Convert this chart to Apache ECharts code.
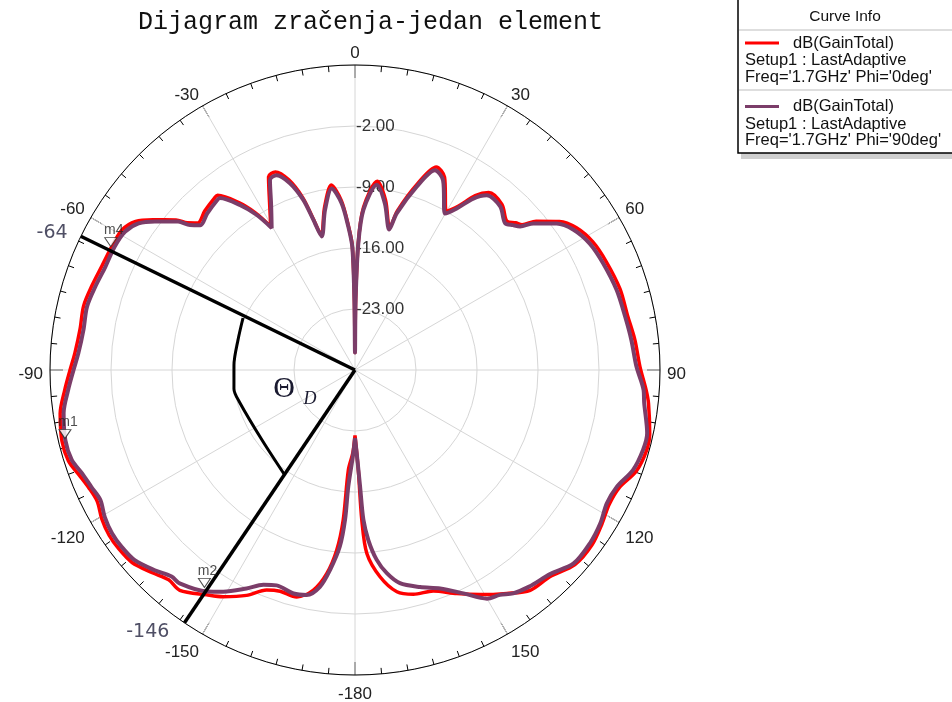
<!DOCTYPE html>
<html><head><meta charset="utf-8">
<script src="https://cdn.jsdelivr.net/npm/echarts@6/dist/echarts.min.js"></script>
<style>html,body{margin:0;padding:0;background:#fff}#c{width:952px;height:702px}</style>
</head><body><div id="c"></div><script>
const titleText = 'Dijagram zračenja-jedan element';
const angleLabels = [0, 30, 60, 90, 120, 150, -180, -150, -120, -90, -60, -30];
const radialTicks = [-30, -23, -16, -9, -2, 5];

// Phi = 0deg (red)
const thetaPhi0 = [-180, -178.5, -176.2, -175.5, -174.2, -172.1, -169.3, -165.6, -161.3, -158.1,
 -154.3, -149.8, -146.6, -141.5, -138.4, -135, -130.8, -127.1, -123.9, -120.4,
 -117.0, -113.9, -110.7, -107.6, -103.6, -98.4, -94.0, -90, -86.5, -81.6,
 -76.7, -72.2, -67.6, -62.8, -59.0, -55.9, -53.4, -50.0, -48.7, -46.9,
 -43.4, -39.1, -38.2, -34.9, -32.4, -30.4, -27.0, -24.1, -21.9, -19.2,
 -16.9, -15.5, -14.0, -10.6, -7.3, -4.6, -2.7, -1.25, -0.5, 0,
 0.5, 1.5, 3.0, 6.7, 10.2, 13.7, 14.9, 18.6, 21.8, 24.9,
 29.9, 32.2, 34.6, 37.0, 41.6, 45.6, 47.5, 49.0, 50.6, 54.0,
 57.3, 61.7, 66.7, 73.0, 78.8, 83.8, 89.3, 94.0, 96.5, 102.2,
 105.5, 109.8, 114.0, 117.9, 122.0, 126.4, 131.5, 136.7, 141.5, 145.8,
 150.9, 155.5, 160.5, 165.4, 169.3, 173.1, 176.3, 177.4, 178.1, 180];
const gainPhi0 = [-22.5, -20.5, -18.5, -12.7, -9.2, -6.4, -4.3, -3.1, -3.2, -2.8,
 -1.3, 0.1, 0.9, 2.3, 2.2, 2.9, 3.8, 4.0, 4.0, 3.7,
 3.2, 3.4, 3.9, 4.5, 4.6, 4.2, 3.4, 2.7, 2.2, 1.9,
 2.0, 1.7, 1.4, 1.3, 1.2, 0.4, -1.1, -3.2, -4.4, -5.3,
 -4.9, -4.5, -4.5, -6.5, -8.6, -10.9, -8.4, -5.7, -5.5, -6.9,
 -9.3, -11.9, -14.0, -11.0, -8.6, -10.5, -13.3, -15.7, -22, -28,
 -22, -15.3, -11.3, -8.2, -10.2, -13.2, -11.1, -7.4, -4.9, -5.6,
 -9.0, -7.8, -5.7, -4.5, -4.6, -5.6, -5.0, -4.6, -3.1, -1.0,
 0.2, 1.0, 1.4, 1.8, 1.9, 2.3, 2.7, 3.5, 3.9, 4.6,
 4.7, 4.3, 3.2, 3.0, 3.4, 3.8, 3.7, 2.6, 2.3, 1.0,
 -0.5, -1.8, -3.1, -3.4, -4.1, -6.1, -8.9, -12.8, -18.5, -22.5];

// Phi = 90deg (purple)
const thetaPhi90 = [-180, -178.8, -176.7, -176.2, -175.1, -172.9, -170.8, -167.9, -164.6, -160.0,
 -156.9, -153.6, -149.3, -146.2, -140.6, -138.4, -135, -130.8, -127.1, -123.9,
 -120.4, -117.0, -113.9, -110.7, -107.6, -103.6, -98.4, -94.0, -90, -86.5,
 -81.6, -76.7, -72.2, -67.6, -62.8, -59.0, -55.9, -53.4, -50.0, -48.7,
 -46.9, -43.4, -39.1, -38.2, -34.9, -32.4, -30.4, -27.0, -24.1, -21.9,
 -19.2, -16.9, -15.5, -14.0, -10.6, -7.3, -4.6, -2.7, -1.25, -0.5,
 0, 0.5, 1.5, 3.0, 6.7, 10.2, 13.7, 14.9, 18.6, 21.8,
 24.9, 29.9, 32.2, 34.6, 37.0, 41.6, 45.6, 47.5, 49.0, 50.6,
 54.0, 57.3, 61.7, 66.7, 73.0, 78.8, 83.8, 89.3, 94.0, 96.5,
 102.2, 105.5, 109.8, 114.0, 117.9, 122.0, 126.4, 131.5, 136.3, 141.2,
 144.7, 147.2, 150.0, 154.1, 158.7, 163.3, 168.1, 171.1, 173.5, 175.5,
 176.8, 177.5, 178.8, 180];
const gainPhi90 = [-22.2, -20.4, -16.6, -12.8, -9.7, -6.9, -4.8, -3.6, -3.4, -3.7,
 -3.2, -2.0, -0.4, 0.6, 1.7, 1.7, 2.5, 3.4, 3.6, 3.6,
 3.3, 2.8, 3.1, 3.5, 4.1, 4.2, 3.8, 3.0, 2.3, 1.8,
 1.5, 1.6, 1.3, 1.0, 1.0, 0.8, 0.0, -1.4, -3.5, -4.8,
 -5.7, -5.3, -4.9, -4.9, -6.9, -8.9, -11.1, -8.8, -6.1, -5.9,
 -7.3, -9.6, -12.1, -14.2, -11.3, -9.0, -10.8, -13.5, -15.9, -22,
 -28, -22, -15.5, -11.6, -8.6, -10.6, -13.4, -11.4, -7.8, -5.3,
 -6.0, -9.3, -8.1, -6.1, -4.9, -4.9, -5.9, -5.4, -4.9, -3.5,
 -1.4, -0.2, 0.6, 1.0, 1.4, 1.6, 1.9, 2.3, 3.2, 3.4,
 4.3, 4.3, 3.9, 2.9, 2.7, 3.2, 3.5, 3.5, 2.4, 1.9,
 1.4, 0.7, 0.3, -1.5, -3.1, -4.0, -5.0, -6.4, -8.1, -10.4,
 -12.8, -16.6, -20.4, -22.2];

// beamwidth annotation
const beamTheta = [-64, -146];
const beamEndGain = [5.93, 5.44];
const beamLabels = ['-64', '-146'];
const arcTheta = [-65.1, -75.6, -87.6, -98.9, -106, -127, -145.7];
const arcGain = [-15.83, -16.14, -16.1, -15.94, -16.27, -16.64, -15.55];

// markers
const markerNames = ['m1', 'm2', 'm4'];
const markerTheta = [-103.3, -145.3, -63.2];
const markerGain = [4.2, 0.35, 1.4];

const legendEntries = [
  {name: 'dB(GainTotal)', l2: 'Setup1 : LastAdaptive', l3: "Freq='1.7GHz' Phi='0deg'"},
  {name: 'dB(GainTotal)', l2: 'Setup1 : LastAdaptive', l3: "Freq='1.7GHz' Phi='90deg'"}
];
const colors = ['#ff0000', '#7b3d69'];

const toAng = t => (t + 360) % 360;
const pts = (th, g) => th.map((t, i) => [g[i], toAng(t)]);
const font = 'Liberation Sans, Arial, sans-serif';
const angleFmt = v => {
  if (v === 360) return '';
  const d = v > 180 ? v - 360 : (v === 180 ? -180 : v);
  return angleLabels.indexOf(d) >= 0 ? String(d) : '';
};

const chart = echarts.init(document.getElementById('c'), null, {renderer: 'canvas'});
const legendGraphics = [
  {type: 'rect', shape: {x: 741, y: 153, width: 215, height: 6}, style: {fill: '#cfcfcf'}, z: 10},
  {type: 'rect', shape: {x: 738, y: -2, width: 220, height: 155}, style: {fill: '#fff', stroke: '#000', lineWidth: 1.5}, z: 11},
  {type: 'line', shape: {x1: 739, y1: 30, x2: 952, y2: 30}, style: {stroke: '#bdbdbd', lineWidth: 1}, z: 12},
  {type: 'line', shape: {x1: 739, y1: 90, x2: 952, y2: 90}, style: {stroke: '#bdbdbd', lineWidth: 1}, z: 12},
  {type: 'text', x: 845, y: 17, style: {text: 'Curve Info', font: '15.5px ' + font, fill: '#111', align: 'center', verticalAlign: 'middle'}, z: 12}
];
legendEntries.forEach((e, i) => {
  const y0 = 43 + i * 63.5;
  legendGraphics.push(
    {type: 'line', shape: {x1: 745, y1: y0, x2: 779, y2: y0}, style: {stroke: colors[i], lineWidth: 3}, z: 12},
    {type: 'text', x: 793, y: y0, style: {text: e.name, font: '16.5px ' + font, fill: '#111', verticalAlign: 'middle'}, z: 12},
    {type: 'text', x: 745, y: y0 + 17.5, style: {text: e.l2, font: '16.5px ' + font, fill: '#111', verticalAlign: 'middle'}, z: 12},
    {type: 'text', x: 745, y: y0 + 34, style: {text: e.l3, font: '16.5px ' + font, fill: '#111', verticalAlign: 'middle'}, z: 12}
  );
});

const option = {
  animation: false,
  backgroundColor: '#fff',
  title: {
    text: titleText, left: 133, top: 5,
    textStyle: {fontFamily: 'Liberation Mono, monospace', fontSize: 25, fontWeight: 'normal', color: '#111'}
  },
  polar: [
    {center: [355, 370], radius: 305},
    {center: [355, 374], radius: 305}
  ],
  angleAxis: [{
    polarIndex: 0,
    type: 'value', min: 0, max: 360, interval: 30, startAngle: 90, clockwise: true,
    axisLine: {lineStyle: {color: '#000', width: 1}},
    axisTick: {show: true, inside: true, length: 13, lineStyle: {color: '#000', width: 1}},
    minorTick: {show: true, splitNumber: 6, length: 6, lineStyle: {color: '#000', width: 1}},
    axisLabel: {show: false},
    splitLine: {show: true, lineStyle: {color: '#d6d6d6', width: 1}}
  }, {
    polarIndex: 1,
    type: 'value', min: 0, max: 360, interval: 30, startAngle: 90, clockwise: true,
    axisLine: {show: false}, axisTick: {show: false}, splitLine: {show: false},
    axisLabel: {margin: 7, color: '#222', fontSize: 17, fontFamily: font, formatter: angleFmt}
  }],
  radiusAxis: [{
    polarIndex: 0,
    type: 'value', min: radialTicks[0], max: radialTicks[radialTicks.length - 1], interval: 7,
    axisLine: {show: false}, axisTick: {show: false},
    axisLabel: {
      color: '#333', fontSize: 17, fontFamily: font, margin: -1, align: 'left',
      formatter: v => (v === radialTicks[0] || v === radialTicks[radialTicks.length - 1]) ? '' : v.toFixed(2)
    },
    splitLine: {show: true, lineStyle: {color: '#d6d6d6', width: 1}}
  }, {
    polarIndex: 1,
    type: 'value', min: radialTicks[0], max: radialTicks[radialTicks.length - 1], interval: 7,
    show: false, axisLine: {show: false}, axisTick: {show: false}, axisLabel: {show: false}, splitLine: {show: false}
  }],
  series: [
    {type: 'line', coordinateSystem: 'polar', polarIndex: 0, data: pts(thetaPhi0, gainPhi0), symbol: 'none', showSymbol: false,
     smooth: 0.3, lineStyle: {color: colors[0], width: 3.5}, z: 3},
    {type: 'line', coordinateSystem: 'polar', polarIndex: 0, data: pts(thetaPhi90, gainPhi90), symbol: 'none', showSymbol: false,
     smooth: 0.3, lineStyle: {color: colors[1], width: 4}, z: 4},
    {type: 'line', coordinateSystem: 'polar', polarIndex: 0, data: pts(arcTheta, arcGain), symbol: 'none', showSymbol: false,
     smooth: 0.3, lineStyle: {color: '#000', width: 3}, z: 5},
    ...beamTheta.map((t, i) => ({
      type: 'line', coordinateSystem: 'polar', polarIndex: 0, clip: false, symbol: 'none', showSymbol: false,
      data: [[radialTicks[0], toAng(t)], [beamEndGain[i], toAng(t)]],
      lineStyle: {color: '#000', width: 3.5}, z: 5
    })),
    {type: 'scatter', coordinateSystem: 'polar', polarIndex: 0, clip: false, symbolSize: 0, z: 6,
     data: beamTheta.map((t, i) => ({value: [beamEndGain[i], toAng(t)],
       label: {show: true, formatter: beamLabels[i], position: 'left', distance: i === 0 ? 6 : 13, offset: i === 0 ? [0, 0] : [0, 6],
         color: '#23233f', fontSize: 19, fontFamily: 'DejaVu Sans, sans-serif'}}))},
    {type: 'scatter', coordinateSystem: 'polar', polarIndex: 0, clip: false, z: 7,
     symbol: 'path://M0,0 L12,0 L6,10 Z', symbolSize: [12, 9], symbolOffset: [0, '-50%'],
     itemStyle: {color: '#fff', borderColor: '#222', borderWidth: 1},
     data: markerTheta.map((t, i) => ({value: [markerGain[i], toAng(t)], name: markerNames[i]})),
     label: {show: true, position: 'top', distance: 1, offset: [3, 1], formatter: p => p.name, color: '#222', fontSize: 14, fontFamily: font}}
  ],
  graphic: [
    {type: 'text', x: 284, y: 389, style: {text: 'Θ', font: '30px Liberation Serif, serif', fill: '#1a1a30', align: 'center', verticalAlign: 'middle'}, z: 10},
    {type: 'text', x: 310, y: 399, style: {text: 'D', font: 'italic 18px Liberation Serif, serif', fill: '#1a1a30', align: 'center', verticalAlign: 'middle'}, z: 10},
    ...legendGraphics
  ]
};
chart.setOption(option);
</script></body></html>
